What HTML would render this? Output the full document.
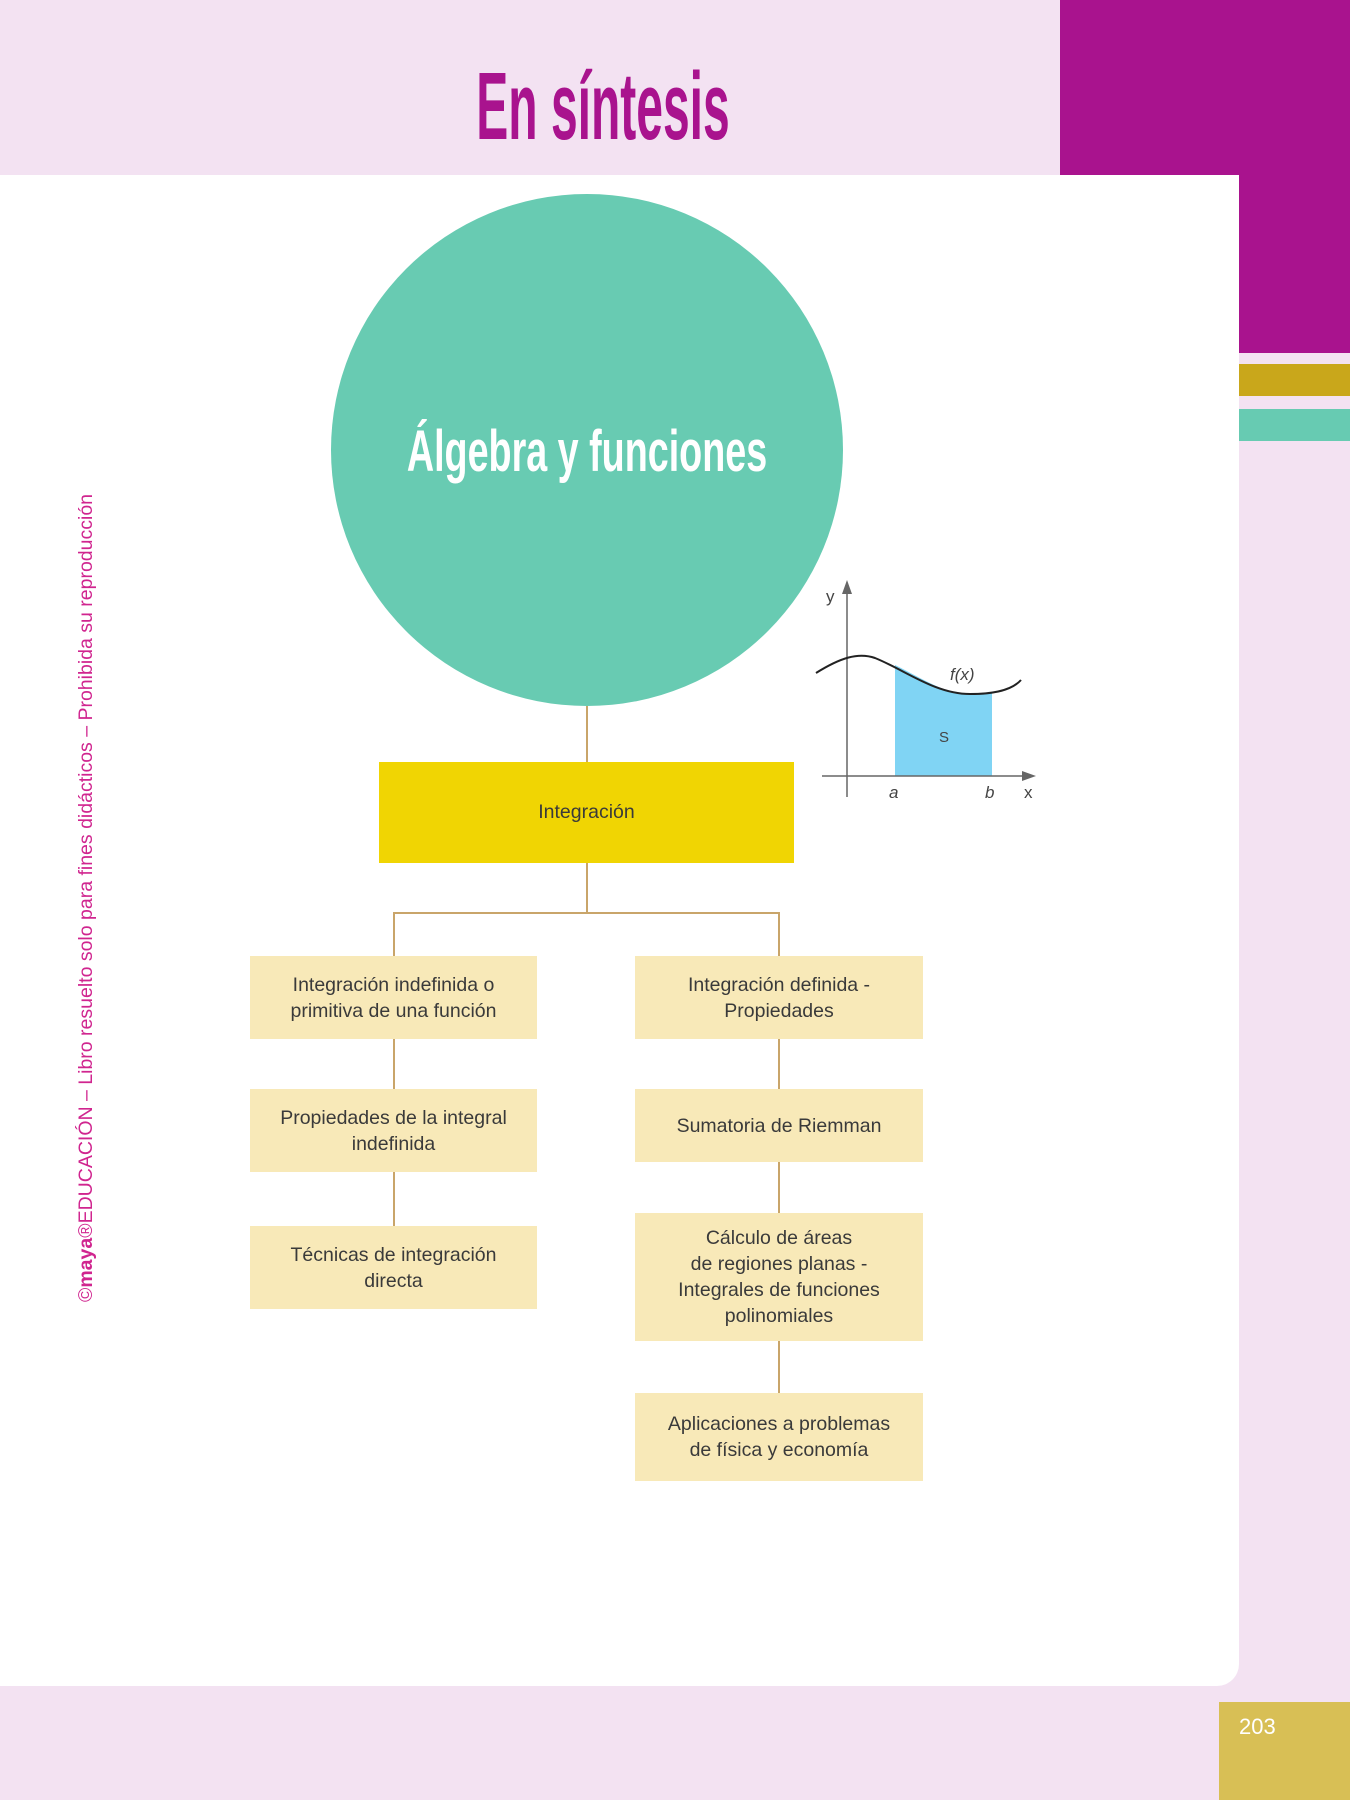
<!DOCTYPE html>
<html><head><meta charset="utf-8"><style>
body{margin:0;width:1350px;height:1800px;position:relative;background:#f3e2f2;font-family:"Liberation Sans",sans-serif;overflow:hidden}
.a{position:absolute}
.box{position:absolute;background:#f8e9b8;color:#3a3a3a;font-size:19.5px;line-height:26px;display:flex;align-items:center;justify-content:center;text-align:center}
.l{position:absolute;background:#c9a56a}
</style></head><body>
<div class="a" style="left:1060px;top:0;width:290px;height:175px;background:#a9138e"></div>
<div class="a" style="left:1239px;top:0;width:111px;height:353px;background:#a9138e"></div>
<div class="a" style="left:1239px;top:364px;width:111px;height:32px;background:#c9a71b"></div>
<div class="a" style="left:1239px;top:409px;width:111px;height:32px;background:#67cbb2"></div>
<div class="a" style="left:0;top:175px;width:1239px;height:1511px;background:#fff;border-bottom-right-radius:22px"></div>
<div class="a" style="left:1219px;top:1702px;width:131px;height:98px;background:#d8bf55;color:#fff;font-size:22px;line-height:50px;box-sizing:border-box;padding-left:20px">203</div>
<div class="a" style="left:303px;top:52px;width:600px;text-align:center;color:#a9138e;font-size:96px;font-weight:bold;line-height:110px;transform:scaleX(0.5);white-space:nowrap">En síntesis</div>
<div class="a" style="left:331px;top:194px;width:512px;height:512px;border-radius:50%;background:#68cbb2"></div>
<div class="a" style="left:287px;top:420px;width:600px;text-align:center;color:#fff;font-size:58px;font-weight:bold;line-height:64px;transform:scaleX(0.65);white-space:nowrap">Álgebra y funciones</div>
<div class="l" style="left:586px;top:706px;width:2px;height:56px"></div>
<div class="a" style="left:379px;top:762px;width:415px;height:101px;background:#f0d503;color:#3a3a3a;font-size:19.5px;display:flex;align-items:center;justify-content:center">Integración</div>
<div class="l" style="left:586px;top:863px;width:2px;height:50px"></div>
<div class="l" style="left:393px;top:912px;width:387px;height:2px"></div>
<div class="l" style="left:393px;top:912px;width:2px;height:44px"></div>
<div class="l" style="left:778px;top:912px;width:2px;height:44px"></div>
<div class="l" style="left:393px;top:1039px;width:2px;height:50px"></div>
<div class="l" style="left:393px;top:1172px;width:2px;height:54px"></div>
<div class="l" style="left:778px;top:1039px;width:2px;height:50px"></div>
<div class="l" style="left:778px;top:1162px;width:2px;height:51px"></div>
<div class="l" style="left:778px;top:1341px;width:2px;height:52px"></div>
<div class="box" style="left:250px;top:956px;width:287px;height:83px">Integración indefinida o<br>primitiva de una función</div>
<div class="box" style="left:250px;top:1089px;width:287px;height:83px">Propiedades de la integral<br>indefinida</div>
<div class="box" style="left:250px;top:1226px;width:287px;height:83px">Técnicas de integración<br>directa</div>
<div class="box" style="left:635px;top:956px;width:288px;height:83px">Integración definida -<br>Propiedades</div>
<div class="box" style="left:635px;top:1089px;width:288px;height:73px">Sumatoria de Riemman</div>
<div class="box" style="left:635px;top:1213px;width:288px;height:128px">Cálculo de áreas<br>de regiones planas -<br>Integrales de funciones<br>polinomiales</div>
<div class="box" style="left:635px;top:1393px;width:288px;height:88px">Aplicaciones a problemas<br>de física y economía</div>
<svg class="a" style="left:0;top:0" width="1350" height="1800">
<path d="M895,665 C925,680 945,694 970,694 C980,694 985,693 992,692 L992,776 L895,776 Z" fill="#80d4f4"/>
<line x1="847" y1="797" x2="847" y2="590" stroke="#666" stroke-width="1.5"/>
<polygon points="847,580 842,594 852,594" fill="#666"/>
<line x1="822" y1="776" x2="1028" y2="776" stroke="#666" stroke-width="1.5"/>
<polygon points="1036,776 1022,771 1022,781" fill="#666"/>
<path d="M816,673 C840,658 858,652 875,658 C905,670 935,694 970,694 C995,694 1012,690 1021,680" fill="none" stroke="#222" stroke-width="2"/>
<g font-family="Liberation Sans" font-size="17" fill="#444">
<text x="826" y="602">y</text><text x="950" y="680" font-style="italic">f(x)</text>
<text x="939" y="742" font-size="15">S</text><text x="889" y="798" font-style="italic">a</text>
<text x="985" y="798" font-style="italic">b</text><text x="1024" y="798">x</text></g>
</svg>
<div class="a" style="left:86px;top:898px;width:900px;height:24px;margin-left:-450px;margin-top:-12px;transform:rotate(-90deg);color:#d0258f;font-size:19.5px;text-align:center;line-height:24px;white-space:nowrap">©<b>maya</b>®EDUCACIÓN – Libro resuelto solo para fines didácticos – Prohibida su reproducción</div>
</body></html>
